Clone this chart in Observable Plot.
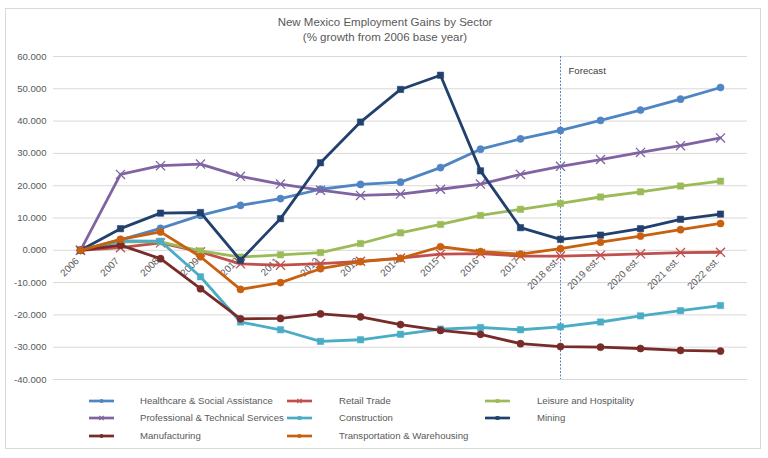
<!DOCTYPE html>
<html>
<head>
<meta charset="utf-8">
<script src="https://cdn.jsdelivr.net/npm/d3@7"></script>
<script src="https://cdn.jsdelivr.net/npm/@observablehq/plot@0.6"></script>
<style>
  html, body { margin: 0; padding: 0; background: #fff; }
  body { width: 768px; height: 458px; position: relative; overflow: hidden; font-family: "Liberation Sans", Arial, sans-serif; color: #595959; }
  #frame { position: absolute; left: 5px; top: 8px; width: 756px; height: 441px; border: 1px solid #d9d9d9; box-sizing: border-box; }
  #title { position: absolute; top: 15px; left: 0; width: 770px; text-align: center; font-size: 11.5px; line-height: 15px; color: #595959; }
  #chart { position: absolute; left: 0; top: 45px; }
  .leg { position: absolute; font-size: 9.6px; line-height: 12px; color: #595959; white-space: nowrap; }
  .sw { position: absolute; }
</style>
</head>
<body>
<div id="frame"></div>
<div id="title">New Mexico Employment Gains by Sector<br>(% growth from 2006 base year)</div>
<div id="chart"></div>
<div id="legend"></div>
<script>
const years = ["2006","2007","2008","2009","2010","2011","2012","2013","2014","2015","2016","2017","2018 est.","2019 est.","2020 est.","2021 est.","2022 est."];
const yTicks = [-40, -30, -20, -10, 0, 10, 20, 30, 40, 50, 60];
const forecastStart = "2018 est.";

const healthcare    = [0, 3.2, 6.8, 10.8, 13.9, 16.0, 18.9, 20.4, 21.1, 25.6, 31.3, 34.5, 37.1, 40.2, 43.4, 46.8, 50.4];
const retail        = [0, 0.8, 2.3, -0.5, -4.2, -4.6, -4.1, -3.4, -2.4, -1.2, -1.0, -1.8, -1.8, -1.5, -1.1, -0.7, -0.6];
const leisure       = [0, 2.7, 2.6, -0.2, -2.1, -1.4, -0.7, 2.1, 5.4, 8.0, 10.8, 12.7, 14.5, 16.5, 18.1, 19.9, 21.4];
const professional  = [0, 23.5, 26.2, 26.7, 22.9, 20.5, 18.6, 17.0, 17.4, 18.9, 20.5, 23.5, 26.0, 28.1, 30.3, 32.4, 34.8];
const construction  = [0, 2.9, 2.8, -8.2, -22.2, -24.6, -28.2, -27.7, -26.0, -24.4, -23.9, -24.6, -23.7, -22.2, -20.3, -18.7, -17.1];
const mining        = [0, 6.7, 11.5, 11.7, -3.1, 9.8, 27.1, 39.7, 49.8, 54.2, 24.6, 7.0, 3.4, 4.7, 6.7, 9.6, 11.2];
const manufacturing = [0, 1.6, -2.6, -11.9, -21.2, -21.1, -19.7, -20.6, -23.0, -24.8, -26.0, -28.9, -29.8, -30.0, -30.4, -31.0, -31.2];
const transport     = [0, 3.4, 5.7, -2.0, -12.1, -10.0, -5.7, -3.5, -2.5, 1.1, -0.4, -1.2, 0.5, 2.5, 4.4, 6.4, 8.3];

const seriesNames   = ["Healthcare & Social Assistance", "Retail Trade", "Leisure and Hospitality", "Professional & Technical Services", "Construction", "Mining", "Manufacturing", "Transportation & Warehousing"];
const seriesValues  = [healthcare, retail, leisure, professional, construction, mining, manufacturing, transport];
const seriesColors  = ["#5085C3", "#C0504D", "#9BBB59", "#8064A2", "#4BACC6", "#22406D", "#772C2A", "#C8600F"];
const seriesSymbols = ["circle", "times", "square", "times", "square", "square", "circle", "circle"];

const rows = seriesNames.flatMap((name, s) => years.map((year, i) => ({series: name, year, value: seriesValues[s][i]})));

const seriesMarks = seriesNames.flatMap((name, s) => {
  const data = rows.filter(d => d.series === name);
  const sym = seriesSymbols[s];
  const line = Plot.line(data, {x: "year", y: "value", stroke: "series", strokeWidth: 2.8, strokeLinejoin: "round"});
  const dot = sym === "times"
    ? Plot.dot(data, {x: "year", y: "value", symbol: () => "times", stroke: "series", strokeWidth: 1.3, r: 4.2})
    : Plot.dot(data, {x: "year", y: "value", symbol: () => sym, fill: "series", stroke: "series", strokeWidth: 0.5, r: 3.6});
  return [line, dot];
});

const chart = Plot.plot({
  width: 768,
  height: 345,
  marginLeft: 53,
  marginRight: 21,
  marginTop: 11,
  marginBottom: 11,
  style: {fontFamily: "'Liberation Sans', Arial, sans-serif", color: "#595959", background: "transparent"},
  x: {type: "point", domain: years, padding: 0.5, axis: null},
  y: {domain: [-40, 60], axis: null},
  color: {domain: seriesNames, range: seriesColors},
  symbol: {type: "identity"},
  marks: [
    Plot.gridY(yTicks, {stroke: "#d9d9d9", strokeOpacity: 1, strokeWidth: 1}),
    Plot.axisY(yTicks, {label: null, tickSize: 0, tickPadding: 7, tickFormat: d => d.toFixed(3), fill: "#595959", fontSize: 9.6}),
    Plot.ruleX([forecastStart], {x: d => d, stroke: "#5B86C0", strokeWidth: 1, strokeDasharray: "2,1.5"}),
    Plot.text(["Forecast"], {x: () => forecastStart, frameAnchor: "top", dx: 8, dy: 11, textAnchor: "start", fill: "#404040", fontSize: 9.6}),
    Plot.text(years, {x: d => d, y: () => 0, text: d => d, rotate: -45, textAnchor: "end", lineAnchor: "middle", dx: -3, dy: 9, fill: "#595959", fontSize: 9.8}),
    ...seriesMarks
  ]
});
document.getElementById("chart").appendChild(chart);

// Legend
const legend = document.getElementById("legend");
const colX = [88, 286, 484];
const textX = [140, 339, 537];
const rowY = [401, 418, 436];
seriesNames.forEach((name, i) => {
  const c = i % 3, r = Math.floor(i / 3);
  const sym = seriesSymbols[i];
  const color = seriesColors[i];
  const svg = d3.create("svg").attr("class", "sw").attr("width", 28).attr("height", 12)
    .style("left", colX[c] + "px").style("top", (rowY[r] - 6) + "px");
  svg.append("line").attr("x1", 1).attr("x2", 26).attr("y1", 6).attr("y2", 6).attr("stroke", color).attr("stroke-width", 2.7);
  const symType = sym === "circle" ? d3.symbolCircle : sym === "square" ? d3.symbolSquare : d3.symbolTimes;
  const p = svg.append("path").attr("d", d3.symbol(symType, 14)()).attr("transform", "translate(13.5,6)");
  if (sym === "times") p.attr("fill", "none").attr("stroke", color).attr("stroke-width", 1.2);
  else p.attr("fill", color);
  legend.appendChild(svg.node());
  const t = document.createElement("div");
  t.className = "leg";
  t.textContent = name;
  t.style.left = textX[c] + "px";
  t.style.top = (rowY[r] - 6) + "px";
  legend.appendChild(t);
});
</script>
</body>
</html>
